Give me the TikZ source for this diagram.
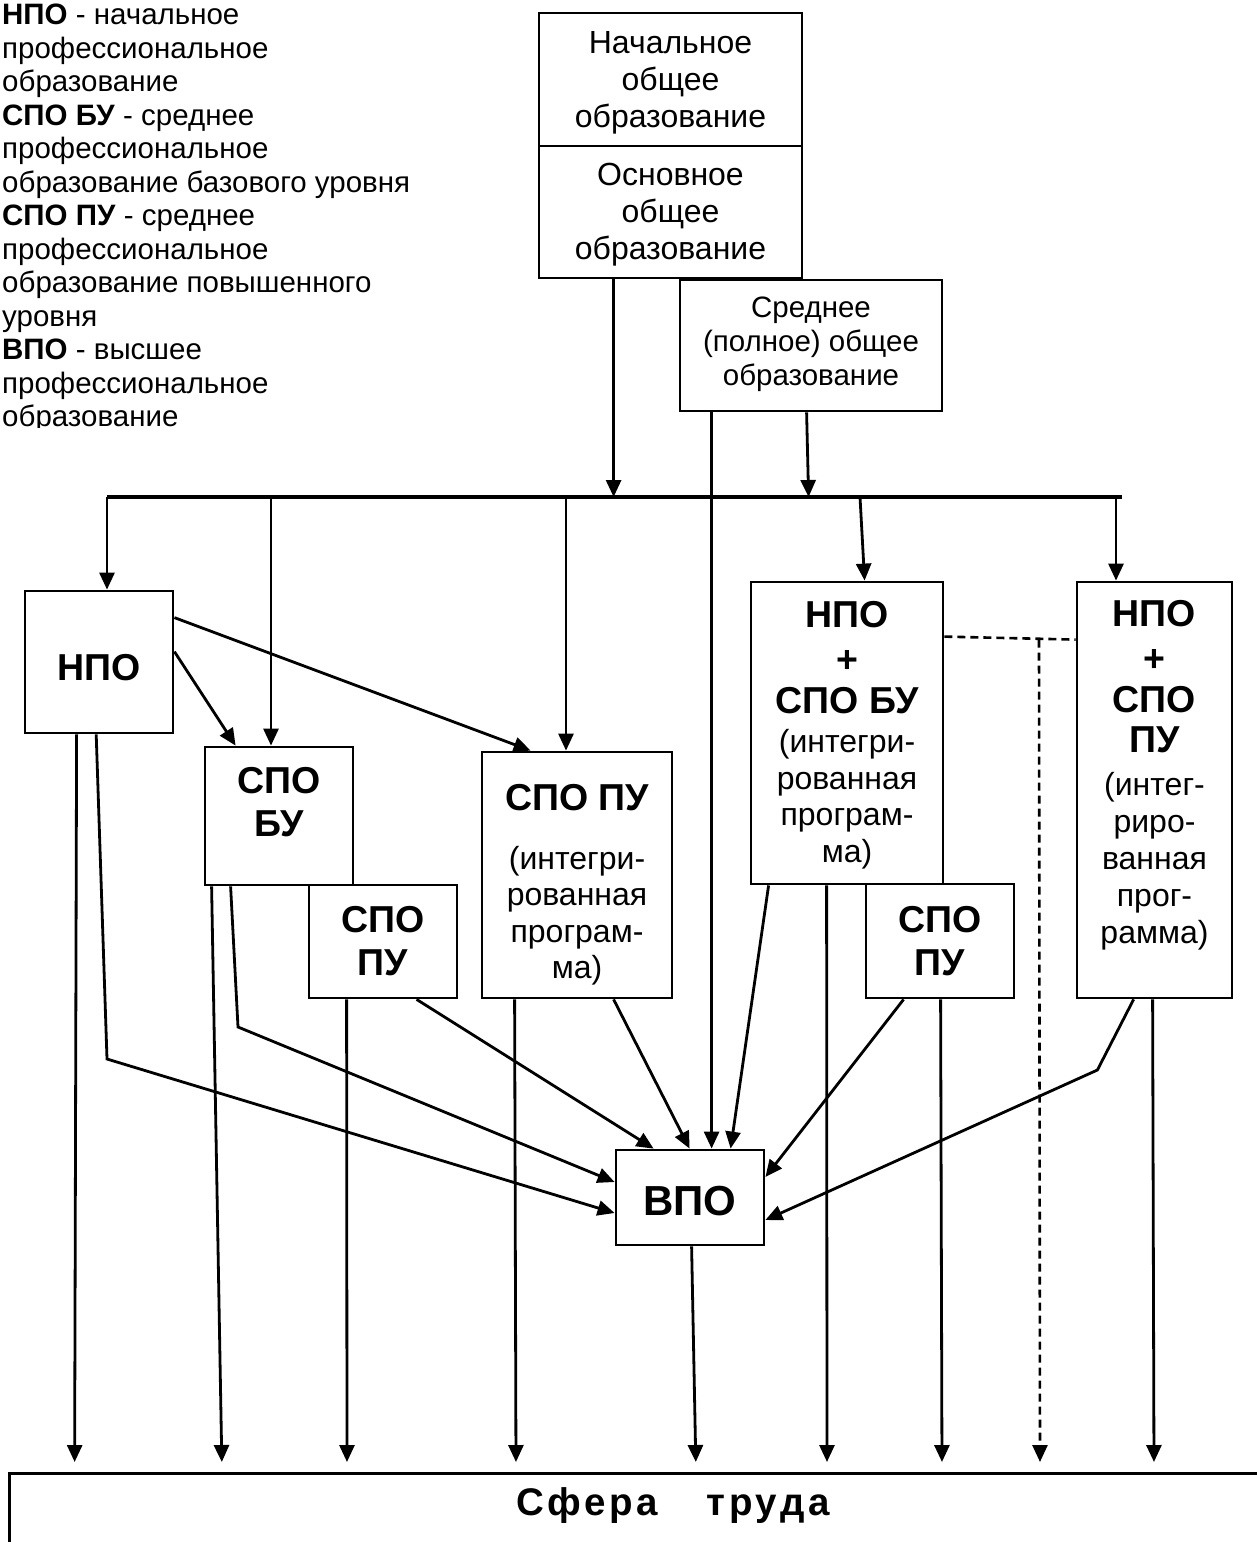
\documentclass[tikz,border=0pt]{standalone}
\usepackage{fontspec}
\setmainfont{Liberation Sans}
\usetikzlibrary{arrows.meta,calc}
\newcommand{\fsz}[2]{\fontsize{#1}{#2}\selectfont}
\begin{document}
\begin{tikzpicture}[x=1pt,y=-1pt,
  box/.style={draw, line width=2.8pt, inner sep=0pt},
  txt/.style={inner sep=0pt, align=center},
  conn/.style={line width=2.8pt, -{Triangle[length=17pt,width=15pt]}},
  dconn/.style={conn, dash pattern=on 8pt off 5pt},
  bfl/.style={font=\bfseries\fsz{37.5}{43}}]
\useasboundingbox (0,0) rectangle (1257,1542);
\clip (0,0) rectangle (1257,1542);

% legend
\begin{scope}
\clip (0,0) rectangle (440,427);
\node[anchor=north west, inner sep=0pt, align=left, font=\fsz{29.5}{33.5}] (legend) at (2,4)
 {\textbf{НПО} - начальное\\профессиональное\\образование\\
  \textbf{СПО БУ} - среднее\\профессиональное\\образование базового уровня\\
  \textbf{СПО ПУ} - среднее\\профессиональное\\образование повышенного\\уровня\\
  \textbf{ВПО} - высшее\\профессиональное\\образование};
\end{scope}

% boxes
\node[box, minimum width=263, minimum height=133] (nachal) at (670.5,79.5) {};
\node[box, minimum width=263, minimum height=132] (osnov) at (670.5,212) {};
\node[box, minimum width=262, minimum height=131] (sredn) at (811,345.5) {};
\node[box, minimum width=148, minimum height=142] (npo) at (99,662) {};
\node[box, minimum width=148, minimum height=138] (spobu) at (279,816) {};
\node[box, minimum width=148, minimum height=113] (spopu1) at (383,941.5) {};
\node[box, minimum width=190, minimum height=246] (spopuI) at (577,875) {};
\node[box, minimum width=192, minimum height=302] (nposb) at (847,733) {};
\node[box, minimum width=148, minimum height=114] (spopu2) at (940,941) {};
\node[box, minimum width=155, minimum height=416] (npospu) at (1154.5,790) {};
\node[box, minimum width=148, minimum height=95] (vpo) at (690,1197.5) {};
\node[box, line width=3.2pt, anchor=north west, minimum width=1320, minimum height=140] (sfera) at (8,1472) {};

% texts
\node[txt, font=\fsz{32}{37}] (nachal-t) at ([yshift=-3pt]nachal.center) {Начальное\\общее\\образование};
\node[txt, font=\fsz{32}{37}] (osnov-t) at ([yshift=-3pt]osnov.center) {Основное\\общее\\образование};
\node[txt, font=\fsz{29.5}{34}] (sredn-t) at ([yshift=1pt]sredn.center) {Среднее\\(полное) общее\\образование};
\node[txt, bfl] (npo-t) at ([yshift=-6pt]npo.center) {НПО};
\node[txt, bfl] (spobu-t) at ([yshift=14pt]spobu.center) {СПО\\БУ};
\node[txt, bfl] (spopu1-t) at (spopu1.center) {СПО\\ПУ};
\node[txt, font=\fsz{32}{36.5}] (spopuI-t) at ([yshift=-10pt]spopuI.center)
 {{\bfseries\fsz{37.5}{43}СПО ПУ}\\[22pt](интегри-\\рованная\\програм-\\ма)};
\node[txt, font=\fsz{32}{36.5}] (nposb-t) at ([yshift=-2pt]nposb.center)
 {{\bfseries\fsz{37.5}{43}НПО}\\[9pt]{\bfseries\fsz{37.5}{43}+}\\[4pt]{\bfseries\fsz{37.5}{43}СПО БУ}\\[3pt](интегри-\\рованная\\програм-\\ма)};
\node[txt, bfl] (spopu2-t) at (spopu2.center) {СПО\\ПУ};
\node[txt, font=\fsz{32}{37}] (npospu-t) at ([yshift=15pt]npospu.center)
 {{\bfseries\fsz{37.5}{43}НПО}\\[8pt]{\bfseries\fsz{37.5}{43}+}\\[4pt]{\bfseries\fsz{37.5}{43}СПО}\\[3pt]{\bfseries\fsz{37.5}{43}ПУ}\\[6pt](интег-\\риро-\\ванная\\прог-\\рамма)};
\node[txt, font=\bfseries\fsz{42}{48}] (vpo-t) at ([yshift=-4pt]vpo.center) {ВПО};
\node[txt, font=\bfseries\fsz{38.5}{44}\addfontfeature{LetterSpace=10}] (sfera-t) at (673,1506) {Сфера\hspace{48pt}труда};

% bus and feed lines
\coordinate (busL) at (107,497);
\coordinate (busR) at (1122,497);
\draw[line width=3.2pt] (busL) -- (busR);
\coordinate (o1) at ($(osnov.south west)+(76,0)$);
\coordinate (sA) at ($(sredn.south west)+(33,0)$);
\coordinate (sB) at ($(sredn.south west)+(128,0)$);
\draw[conn] (o1) -- (o1 |- busL);
\draw[conn] (sB) -- ($(sB |- busL)+(2,0)$);
\draw[conn] (sA) -- (sA |- vpo.north);

\coordinate (b2) at (271,497);
\coordinate (b3) at (566,497);
\coordinate (b4) at (860,497);
\coordinate (b5) at (1116,497);
\draw[conn] (busL) -- (busL |- npo.north);
\draw[conn] (b2) -- (b2 |- spobu.north);
\draw[conn] (b3) -- (b3 |- spopuI.north);
\draw[conn] (b4) -- ($(nposb.north west)+(115,0)$);
\draw[conn] (b5) -- (b5 |- npospu.north);

% from NPO
\draw[conn] ($(npo.north east)+(0,62)$) -- ($(spobu.north west)+(32,0)$);
\draw[conn] ($(npo.north east)+(0,28)$) -- ($(spopuI.north west)+(50,0)$);
\draw[conn, shorten >=10pt] ($(npo.south west)+(53,0)$) -- (74.6,0 |- sfera.north);
\draw[conn] ($(npo.south west)+(72.6,0)$) -- (107,1059) -- ($(vpo.west)+(0,15.5)$);

% from SPO BU
\draw[conn, shorten >=10pt] ($(spobu.south west)+(8,0)$) -- (222,0 |- sfera.north);
\draw[conn] ($(spobu.south west)+(27,0)$) -- (238,1027) -- ($(vpo.west)+(0,-15.5)$);

% from SPO PU (small, left)
\draw[conn, shorten >=10pt] ($(spopu1.south west)+(39,0)$) -- (347,0 |- sfera.north);
\draw[conn] ($(spopu1.south west)+(109,0)$) -- ($(vpo.north west)+(39,0)$);

% from SPO PU integrated
\draw[conn, shorten >=10pt] ($(spopuI.south west)+(34,0)$) -- (516,0 |- sfera.north);
\draw[conn] ($(spopuI.south west)+(133,0)$) -- ($(vpo.north west)+(75,0)$);

% from NPO + SPO BU
\draw[conn] ($(nposb.south west)+(19,0)$) -- ($(vpo.north west)+(116,0)$);
\draw[conn, shorten >=10pt] ($(nposb.south west)+(77,0)$) -- (827,0 |- sfera.north);

% from SPO PU (small, right)
\draw[conn] ($(spopu2.south west)+(39,0)$) -- ($(vpo.east)+(0,-20.5)$);
\draw[conn, shorten >=10pt] ($(spopu2.south west)+(76,0)$) -- (942,0 |- sfera.north);

% from NPO + SPO PU
\draw[conn] ($(npospu.south west)+(58,0)$) -- (1097.4,1070) -- ($(vpo.east)+(0,22.5)$);
\draw[conn, shorten >=10pt] ($(npospu.south west)+(77,0)$) -- (1154,0 |- sfera.north);

% from VPO
\draw[conn, shorten >=10pt] ($(vpo.south west)+(77,0)$) -- (696,0 |- sfera.north);

% dashed link
\draw[line width=2.6pt, dash pattern=on 8pt off 5pt] ($(nposb.north east)+(0,56)$) -- ($(npospu.north west)+(0,59)$);
\coordinate (d1) at (1039,639.5);
\draw[dconn, line width=2.6pt, shorten >=10pt] (d1) -- (1040,0 |- sfera.north);
\end{tikzpicture}
\end{document}
